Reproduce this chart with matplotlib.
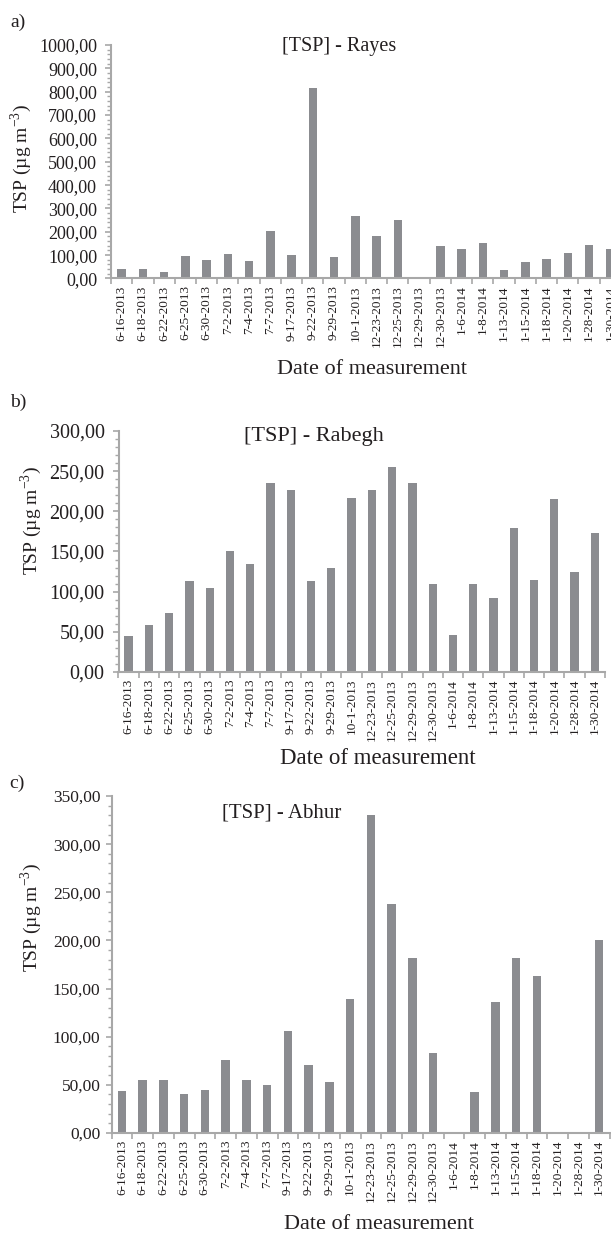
import matplotlib
matplotlib.use("Agg")
import matplotlib.pyplot as plt
from matplotlib.ticker import MultipleLocator, FuncFormatter

plt.rcParams['font.family'] = ['Liberation Serif', 'DejaVu Serif']

dates = ["6-16-2013", "6-18-2013", "6-22-2013", "6-25-2013", "6-30-2013", "7-2-2013",
         "7-4-2013", "7-7-2013", "9-17-2013", "9-22-2013", "9-29-2013", "10-1-2013",
         "12-23-2013", "12-25-2013", "12-29-2013", "12-30-2013", "1-6-2014", "1-8-2014",
         "1-13-2014", "1-15-2014", "1-18-2014", "1-20-2014", "1-28-2014", "1-30-2014"]

rayes = [39, 41, 26, 97, 79, 107, 73, 202, 100, 814, 92, 269,
         183, 252, 0, 139, 127, 153, 36, 72, 82, 109, 142, 127]
rabegh = [45, 59, 74, 113, 105, 150, 134, 235, 226, 113, 129, 217,
          227, 255, 235, 109, 46, 109, 92, 179, 115, 215, 125, 173]
abhur = [44, 55.5, 55.5, 41, 44.5, 76, 55, 49.5, 105.5, 71, 53, 139,
         330, 238, 182, 83, 0, 43, 136, 182, 163, 0, 0, 200]

W, H = 611, 1234
fig = plt.figure(figsize=(W / 100, H / 100), dpi=100)
fig.patch.set_facecolor('white')

BAR = '#8b8c90'
SPINE = '#a8a8a8'
TXT = '#231f20'


def add_ax(left, right, top, bottom):
    return fig.add_axes([left / W, 1 - bottom / H, (right - left) / W, (bottom - top) / H])


def fmt(v, pos):
    return f"{v:.2f}".replace('.', ',')


def panel(ax, vals, ymax, major, minor, yfs, xfs, ypad):
    x = list(range(len(dates)))
    ax.bar(x, vals, width=0.41, color=BAR, zorder=2)
    ax.set_xlim(-0.5, len(dates) - 0.5)
    ax.set_ylim(0, ymax)
    ax.yaxis.set_major_locator(MultipleLocator(major))
    ax.yaxis.set_minor_locator(MultipleLocator(minor))
    ax.yaxis.set_major_formatter(FuncFormatter(fmt))
    ax.set_xticks(x)
    ax.set_xticklabels(dates, rotation=90, fontsize=xfs, color=TXT)
    ax.set_xticks([i - 0.5 for i in range(len(dates) + 1)], minor=True)
    ax.tick_params(axis='x', which='major', length=0, pad=5)
    ax.tick_params(axis='x', which='minor', length=4, width=1.2, color=SPINE, direction='out')
    ax.tick_params(axis='y', which='major', length=4, width=1.2, color=SPINE, labelsize=yfs,
                   labelcolor=TXT, pad=ypad)
    ax.tick_params(axis='y', which='minor', length=3, width=1.0, color=SPINE)
    for s in ['top', 'right']:
        ax.spines[s].set_visible(False)
    for s in ['left', 'bottom']:
        ax.spines[s].set_color(SPINE)
        ax.spines[s].set_linewidth(1.5)
    ax.set_facecolor('none')


def ftext(x, y, s, **kw):
    fig.text(x / W, 1 - y / H, s, color=TXT, **kw)


YL = 'TSP (µg m$^{\\mathregular{-3}}$)'

# Panel a
axa = add_ax(111, 111 + 24 * 21.25, 45, 278.5)
panel(axa, rayes, 1000, 100, 20, 13, 9.5, 6)
ftext(339, 46, '[TSP] - Rayes', fontsize=14.5, ha='center', va='center')
ftext(18, 22, 'a)', fontsize=14, ha='center', va='center')
ftext(21, 158, YL, fontsize=14, rotation=90, ha='center', va='center')
ftext(372, 374, 'Date of measurement', fontsize=16, ha='center', va='baseline')

# Panel b
axb = add_ax(118.5, 605, 431, 672)
panel(axb, rabegh, 300, 50, 10, 14.5, 9.5, 6)
ftext(314, 437, '[TSP] - Rabegh', fontsize=16, ha='center', va='center')
ftext(18, 402, 'b)', fontsize=14, ha='center', va='center')
ftext(31, 520, YL, fontsize=14, rotation=90, ha='center', va='center')
ftext(378, 764, 'Date of measurement', fontsize=16.5, ha='center', va='baseline')

# Panel c
axc = add_ax(111.5, 609.5, 796, 1133)
panel(axc, abhur, 350, 50, 10, 12.5, 9.5, 4)
ftext(282, 813, '[TSP] - Abhur', fontsize=15, ha='center', va='center')
ftext(17, 783, 'c)', fontsize=14, ha='center', va='center')
ftext(31, 917, YL, fontsize=14, rotation=90, ha='center', va='center')
ftext(379, 1229, 'Date of measurement', fontsize=16, ha='center', va='baseline')

fig.savefig('out.png', dpi=100)
